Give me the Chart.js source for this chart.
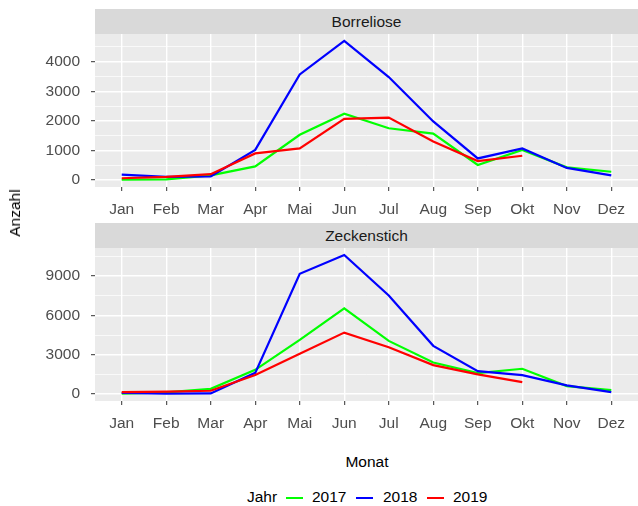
<!DOCTYPE html>
<html>
<head>
<meta charset="utf-8">
<script src="https://cdn.jsdelivr.net/npm/chart.js@4.4.1/dist/chart.umd.min.js"></script>
<style>
  body { margin: 0; width: 638px; height: 506px; background: #fff; position: relative; overflow: hidden; font-family: "Liberation Sans", Arial, sans-serif; }
  canvas { position: absolute; left: 0; }
  .strip { position: absolute; left: 95px; width: 543px; height: 25px; background: #d9d9d9; color: #1a1a1a; font-size: 15.5px; line-height: 25px; text-align: center; }
  .label { position: absolute; font-size: 15.5px; color: #000; white-space: nowrap; }
  .key { position: absolute; width: 17px; height: 2px; top: 497px; }
</style>
</head>
<body>
<div class="strip" style="top:9px">Borreliose</div>
<div class="strip" style="top:223px">Zeckenstich</div>
<canvas id="top" width="638" height="214" style="top:9px"></canvas>
<canvas id="bottom" width="638" height="214" style="top:223px"></canvas>
<div class="label" style="left:15px;top:213px;transform:translate(-50%,-50%) rotate(-90deg)">Anzahl</div>
<div class="label" style="left:367px;top:462px;transform:translate(-50%,-50%)">Monat</div>
<div class="label" style="left:247px;top:497px;transform:translateY(-50%)">Jahr</div>
<div class="key" style="left:286px;background:#00ff00"></div>
<div class="label" style="left:312px;top:497px;transform:translateY(-50%)">2017</div>
<div class="key" style="left:356px;background:#0000ff"></div>
<div class="label" style="left:383px;top:497px;transform:translateY(-50%)">2018</div>
<div class="key" style="left:427px;background:#ff0000"></div>
<div class="label" style="left:453px;top:497px;transform:translateY(-50%)">2019</div>
<script>
const months = ["Jan", "Feb", "Mar", "Apr", "Mai", "Jun", "Jul", "Aug", "Sep", "Okt", "Nov", "Dez"]

const borreliose2017 = [10, 20, 160, 460, 1530, 2240, 1750, 1570, 510, 1020, 430, 280]
const borreliose2018 = [180, 110, 120, 1020, 3570, 4700, 3480, 1980, 730, 1070, 410, 160]
const borreliose2019 = [60, 110, 200, 900, 1070, 2070, 2110, 1300, 640, 820, null, null]

const zeckenstich2017 = [30, 130, 400, 1850, 4130, 6540, 4060, 2410, 1600, 1930, 610, 300]
const zeckenstich2018 = [80, 30, 50, 1620, 9180, 10620, 7530, 3680, 1750, 1450, 660, 150]
const zeckenstich2019 = [150, 180, 250, 1450, 3070, 4690, 3570, 2210, 1500, 910, null, null]

const borrelioseTicks = [0, 500, 1000, 1500, 2000, 2500, 3000, 3500, 4000, 4500]
const zeckenstichTicks = [0, 1500, 3000, 4500, 6000, 7500, 9000, 10500]

const panelBackground = {
  id: "panelBackground",
  beforeDraw(chart) {
    const { ctx, chartArea: a } = chart
    ctx.save()
    ctx.fillStyle = "#ebebeb"
    ctx.fillRect(a.left, a.top, a.right - a.left, a.bottom - a.top)
    ctx.restore()
  },
}

const toPoints = (values) => values.map((y, i) => ({ x: i, y }))

function buildPanel(canvasId, series, ticks, major, yMin, yMax) {
  const colors = ["#00ff00", "#0000ff", "#ff0000"]
  const font = { family: "'Liberation Sans', Arial, sans-serif", size: 15.5 }
  return new Chart(document.getElementById(canvasId), {
    type: "line",
    data: {
      datasets: series.map((values, i) => ({
        label: ["2017", "2018", "2019"][i],
        data: toPoints(values),
        borderColor: colors[i],
        borderWidth: 2.2,
        pointRadius: 0,
        tension: 0,
        order: 2 - i,
      })),
    },
    options: {
      responsive: false,
      animation: false,
      layout: { padding: { top: 25, left: 0, right: 0, bottom: 0 } },
      plugins: { legend: { display: false }, tooltip: { enabled: false } },
      scales: {
        x: {
          type: "linear",
          min: -0.6,
          max: 11.6,
          afterBuildTicks: (scale) => { scale.ticks = months.map((m, i) => ({ value: i })) },
          afterFit: (scale) => { scale.height = 36 },
          border: { display: false },
          grid: { color: "#ffffff", lineWidth: 1.4, tickColor: "#333333", tickLength: 4, tickWidth: 1 },
          ticks: { callback: (v) => months[v], color: "#4d4d4d", font, padding: 9, maxRotation: 0, autoSkip: false },
        },
        y: {
          min: yMin,
          max: yMax,
          afterBuildTicks: (scale) => { scale.ticks = ticks.map((value) => ({ value })) },
          afterFit: (scale) => { scale.width = 95 },
          border: { display: false },
          grid: {
            color: "#ffffff",
            lineWidth: (ctx) => (ctx.tick && ctx.tick.value % major === 0 ? 1.4 : 0.7),
            tickColor: (ctx) => (ctx.tick && ctx.tick.value % major === 0 ? "#333333" : "rgba(0,0,0,0)"),
            tickLength: 4,
            tickWidth: 1,
          },
          ticks: { callback: (v) => (v % major === 0 ? String(v) : ""), color: "#4d4d4d", font, padding: 11, autoSkip: false },
        },
      },
    },
    plugins: [panelBackground],
  })
}

buildPanel("top", [borreliose2017, borreliose2018, borreliose2019], borrelioseTicks, 1000, -235, 4935)
buildPanel("bottom", [zeckenstich2017, zeckenstich2018, zeckenstich2019], zeckenstichTicks, 3000, -531, 11151)
</script>
</body>
</html>
